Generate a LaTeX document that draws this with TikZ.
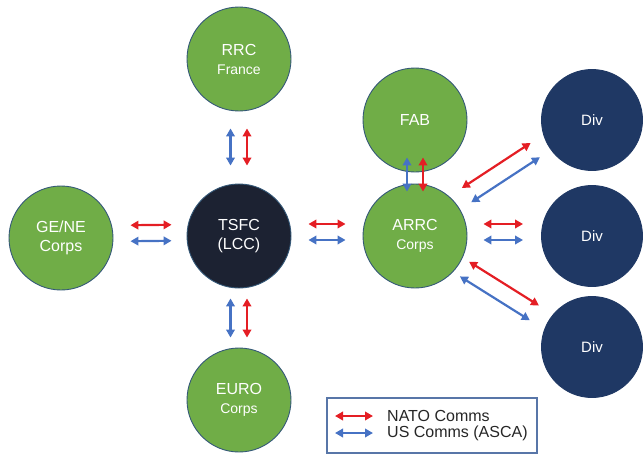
\documentclass[tikz,border=0pt]{standalone}
\usepackage{fontspec}
\setmainfont{Liberation Sans}
\usetikzlibrary{shapes.geometric,arrows.meta}
\definecolor{corpgreen}{RGB}{112,173,71}
\definecolor{rimblue}{RGB}{52,88,120}
\definecolor{divnavy}{RGB}{31,56,100}
\definecolor{hqblack}{RGB}{28,34,50}
\definecolor{natored}{RGB}{228,30,36}
\definecolor{ascablue}{RGB}{70,114,196}
\definecolor{boxblue}{RGB}{88,118,168}

\begin{document}
\begin{tikzpicture}[x=1pt,y=-1pt,
	unit/.style={circle,draw=rimblue,line width=0.9pt,minimum size=104pt,inner sep=0pt,
		text=white,align=center,font=\fontsize{16}{19}\selectfont},
	corps/.style={unit,fill=corpgreen},
	hq/.style={unit,fill=hqblack},
	divn/.style={unit,fill=divnavy,draw=divnavy,minimum size=101pt,font=\fontsize{15}{18}\selectfont},
	nato/.style={natored,line width=2.2pt,{Triangle[length=8pt,width=8.5pt]}-{Triangle[length=8pt,width=8.5pt]}},
	asca/.style={ascablue,line width=2.2pt,{Triangle[length=8pt,width=8.5pt]}-{Triangle[length=8pt,width=8.5pt]}}]
	\useasboundingbox (0,0) rectangle (643,455);
	% units
	\node[corps] (rrc) at (239,59) {RRC\\{\fontsize{14}{19}\selectfont France}};
	\node[corps] (gene) at (61,238) {GE/NE\\Corps};
	\node[hq] (tsfc) at (239,236) {TSFC\\(LCC)};
	\node[corps] (euro) at (239,400) {EURO\\{\fontsize{14}{19}\selectfont Corps}};
	\node[corps] (fab) at (415,120) {FAB};
	\node[corps] (arrc) at (415,236) {ARRC\\{\fontsize{14}{19}\selectfont Corps}};
	\node[divn] (div1) at (592,120) {Div};
	\node[divn] (div2) at (592,236) {Div};
	\node[divn] (div3) at (592,347) {Div};
	% comms links
	\draw[asca,transform canvas={xshift=-8.5pt},shorten <=17pt,shorten >=18pt] (rrc) -- (tsfc);
	\draw[nato,transform canvas={xshift=8pt},shorten <=17pt,shorten >=18pt] (rrc) -- (tsfc);
	\draw[asca,transform canvas={xshift=-8.5pt},shorten <=10pt,shorten >=10pt] (tsfc) -- (euro);
	\draw[nato,transform canvas={xshift=8pt},shorten <=10pt,shorten >=10pt] (tsfc) -- (euro);
	\draw[nato,transform canvas={yshift=12pt},shorten <=17pt,shorten >=15pt] (gene) -- (tsfc);
	\draw[asca,transform canvas={yshift=-4pt},shorten <=17pt,shorten >=15pt] (gene) -- (tsfc);
	\draw[nato,transform canvas={yshift=12pt},shorten <=17pt,shorten >=17pt] (tsfc) -- (arrc);
	\draw[asca,transform canvas={yshift=-4pt},shorten <=17pt,shorten >=17pt] (tsfc) -- (arrc);
	\draw[asca,transform canvas={xshift=-8pt},shorten <=-15pt,shorten >=-8pt] (fab) -- (arrc);
	\draw[nato,transform canvas={xshift=8pt},shorten <=-15pt,shorten >=-8pt] (fab) -- (arrc);
	\draw[nato,transform canvas={xshift=-7.9pt,yshift=12.1pt},shorten <=13pt,shorten >=13pt] (arrc) -- (div1);
	\draw[asca,transform canvas={xshift=1.4pt,yshift=-2.2pt},shorten <=13pt,shorten >=13pt] (arrc) -- (div1);
	\draw[nato,transform canvas={yshift=12pt},shorten <=16pt,shorten >=18pt] (arrc) -- (div2);
	\draw[asca,transform canvas={yshift=-4pt},shorten <=16pt,shorten >=18pt] (arrc) -- (div2);
	\draw[nato,transform canvas={xshift=3.7pt,yshift=5.9pt},shorten <=7pt,shorten >=16pt] (arrc) -- (div3);
	\draw[asca,transform canvas={xshift=-5.5pt,yshift=-8.8pt},shorten <=7pt,shorten >=16pt] (arrc) -- (div3);
	% legend
	\node[draw=boxblue,line width=1.1pt,minimum width=210pt,minimum height=55pt,inner sep=0pt] (legend) at (432,425.5) {};
	\coordinate (natoL) at (335,416);
	\coordinate (natoR) at (373,416);
	\coordinate (ascaL) at (335,433);
	\coordinate (ascaR) at (373,433);
	\draw[nato] (natoL) -- (natoR);
	\draw[asca] (ascaL) -- (ascaR);
	\node[anchor=west,inner sep=0pt,text=black!85,font=\fontsize{16}{19}\selectfont] (natotext) at (387,416) {NATO Comms};
	\node[anchor=west,inner sep=0pt,text=black!85,font=\fontsize{16}{19}\selectfont] (ascatext) at (387,433) {US Comms (ASCA)};
\end{tikzpicture}
\end{document}
